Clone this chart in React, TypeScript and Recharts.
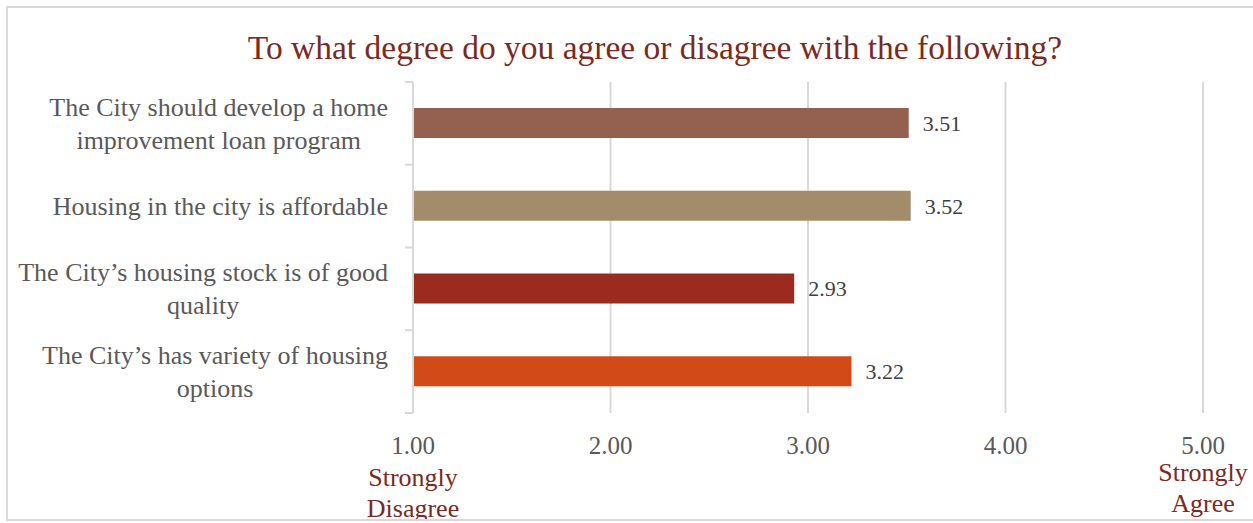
import { BarChart, Bar, XAxis, YAxis, CartesianGrid, LabelList, Cell } from 'recharts';

const FONT = "'Liberation Serif', 'DejaVu Serif', serif";

const title = 'To what degree do you agree or disagree with the following?';
const categories = [
  'The City should develop a home\nimprovement loan program',
  'Housing in the city is affordable',
  'The City\u2019s housing stock is of good\nquality',
  'The City\u2019s has variety of housing\noptions',
];
const scores = [3.51, 3.52, 2.93, 3.22];
const barColors = ['#946151', '#a38c69', '#9b2b1f', '#d24a17'];
const xTicks = [1, 2, 3, 4, 5];
const scaleEnds: Record<number, string[]> = {
  1: ['Strongly', 'Disagree'],
  5: ['Strongly', 'Agree'],
};

const data = categories.map((name, i) => ({ name, score: scores[i] }));

const ctx = document.createElement('canvas').getContext('2d');
const textWidth = (s: string, size: number) => {
  if (!ctx) return s.length * size * 0.45;
  ctx.font = `${size}px ${FONT}`;
  return ctx.measureText(s).width;
};

const CategoryTick = ({ x, y, payload }: any) => {
  const lines = String(payload.value).split('\n');
  const w = Math.max(...lines.map((l) => textWidth(l, 26)));
  const cx = x - w / 2;
  const lh = 33;
  const y0 = y - ((lines.length - 1) * lh) / 2;
  return (
    <text textAnchor="middle" fill="#595959" fontSize={26} fontFamily={FONT}>
      {lines.map((l, i) => (
        <tspan key={i} x={cx} y={y0 + i * lh} dy="0.35em">
          {l}
        </tspan>
      ))}
    </text>
  );
};

const ScoreTick = ({ x, y, payload }: any) => {
  const extra = scaleEnds[payload.value];
  const shift = payload.value === 5 ? 68 : 73;
  return (
    <g>
      <text x={x} y={y + 41} textAnchor="middle" fill="#595959" fontSize={25} fontFamily={FONT}>
        {Number(payload.value).toFixed(2)}
      </text>
      {extra && (
        <text textAnchor="middle" fill="#7b2a21" fontSize={26} fontFamily={FONT}>
          {extra.map((l, i) => (
            <tspan key={i} x={x} y={y + shift + i * 31}>
              {l}
            </tspan>
          ))}
        </text>
      )}
    </g>
  );
};

export default function App() {
  return (
    <div
      style={{
        position: 'absolute',
        left: 6,
        top: 6,
        width: 1250,
        height: 511,
        border: '2px solid #d9d9d9',
        background: '#fff',
      }}
    >
      <div
        style={{
          position: 'absolute',
          top: 25,
          left: 647,
          transform: 'translateX(-50%)',
          whiteSpace: 'nowrap',
          fontFamily: FONT,
          fontSize: 33.5,
          lineHeight: '30px',
          color: '#7b2a21',
        }}
      >
        {title}
      </div>
      <BarChart
        width={1245}
        height={511}
        data={data}
        layout="vertical"
        margin={{ top: 74, right: 50, bottom: 0, left: 0 }}
      >
        <CartesianGrid
          stroke="#d9d9d9"
          strokeWidth={2}
          horizontal={(p: any) => (
            <line key={p.key} x1={p.x1 - 8} x2={p.x1} y1={p.y1} y2={p.y2} stroke="#d9d9d9" strokeWidth={2} />
          )}
          horizontalCoordinatesGenerator={({ offset }: any) =>
            [0, 1, 2, 3, 4].map((i) => offset.top + (i * offset.height) / categories.length)
          }
        />
        <XAxis
          type="number"
          domain={[1, 5]}
          ticks={xTicks}
          axisLine={false}
          tickLine={false}
          tickSize={0}
          tickMargin={0}
          height={106}
          tick={<ScoreTick />}
          interval={0}
        />
        <YAxis
          type="category"
          dataKey="name"
          width={405}
          axisLine={{ stroke: '#d9d9d9', strokeWidth: 2 }}
          tickLine={false}
          tickSize={0}
          tickMargin={25}
          tick={<CategoryTick />}
          interval={0}
        />
        <Bar dataKey="score" barSize={30} isAnimationActive={false}>
          {data.map((_, i) => (
            <Cell key={i} fill={barColors[i]} />
          ))}
          <LabelList
            dataKey="score"
            position="right"
            offset={14}
            fill="#404040"
            fontSize={22}
            fontFamily={FONT}
            formatter={(v: any) => Number(v).toFixed(2)}
          />
        </Bar>
      </BarChart>
    </div>
  );
}
